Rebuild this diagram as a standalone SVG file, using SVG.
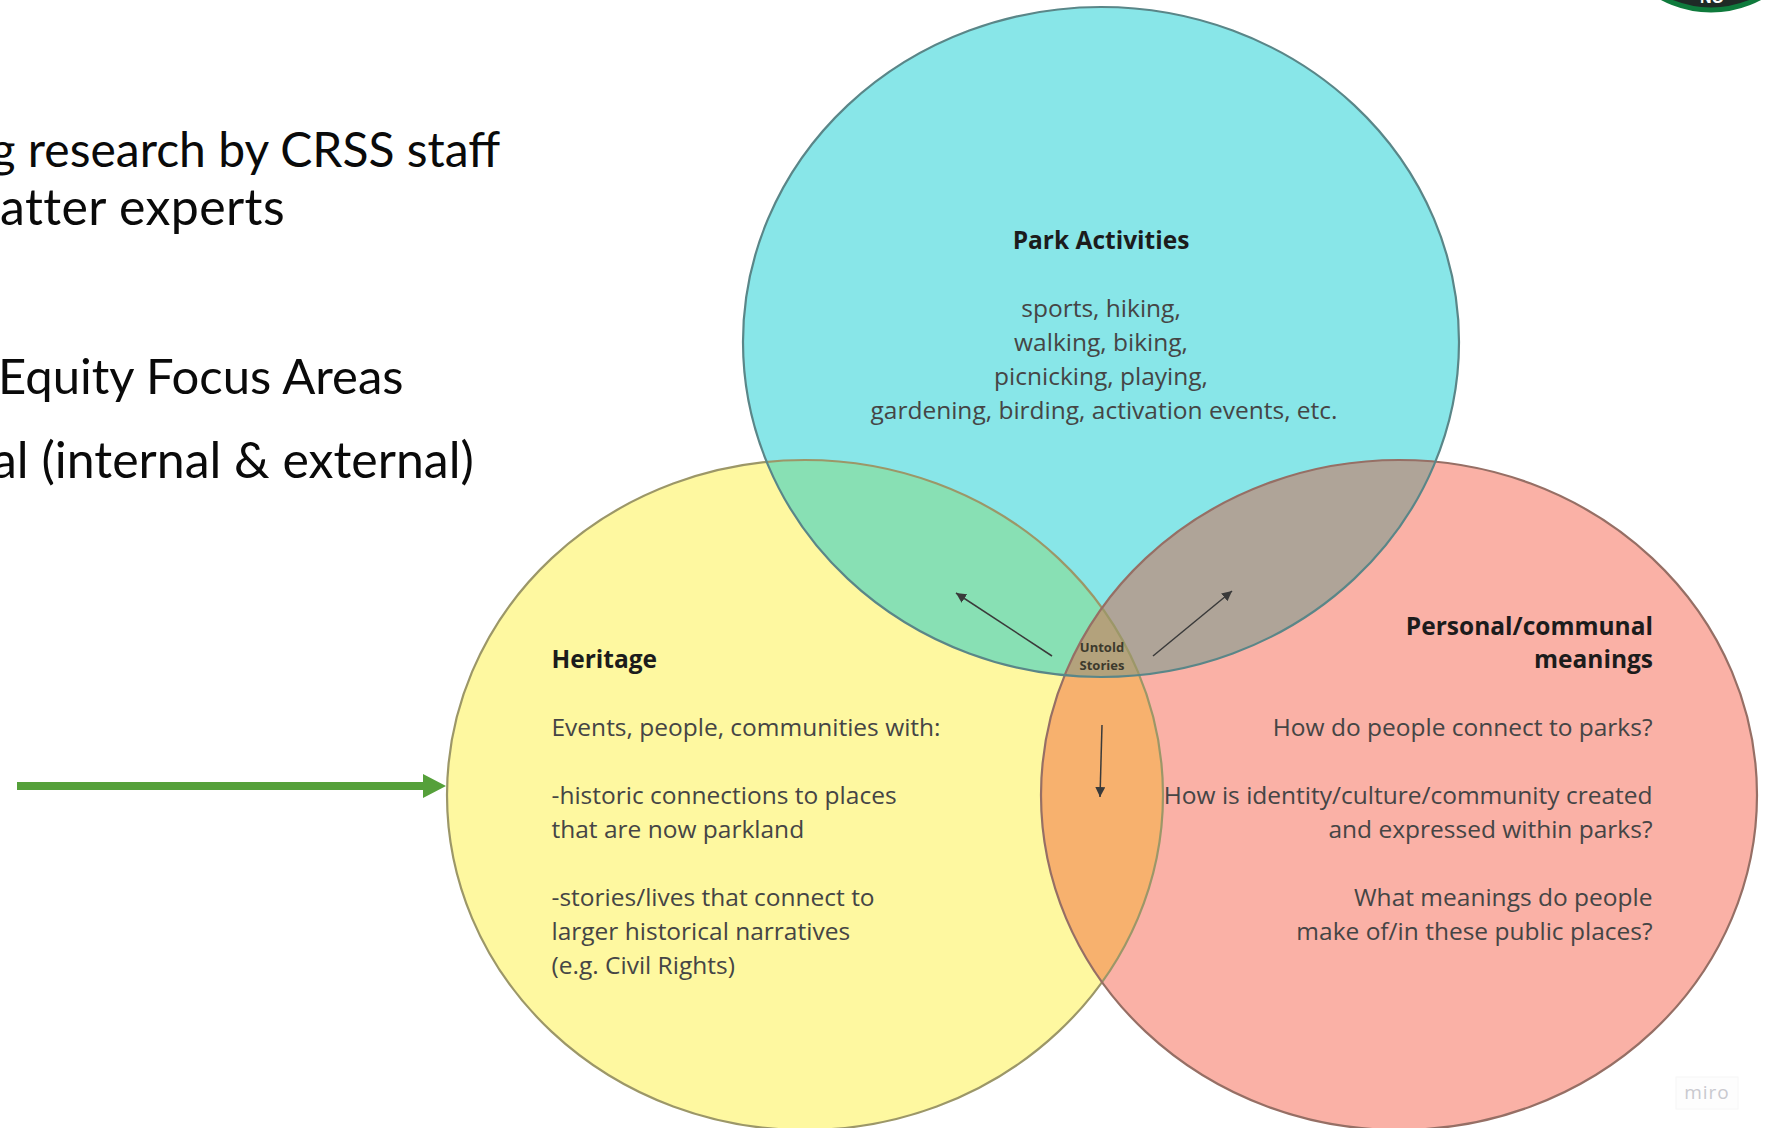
<svg xmlns="http://www.w3.org/2000/svg" width="1767" height="1128" viewBox="0 0 1767 1128">
<style>
.side{font-family:"Lato","Liberation Sans",sans-serif;font-size:50px;fill:#0a0a0a}
.t{font-family:"Open Sans","Noto Sans",sans-serif;font-size:24.5px;fill:#454545}
.b{font-weight:700;fill:#1c1c1c}
.m{text-anchor:middle}
.e{text-anchor:end}
.edge{fill:none;stroke-width:2.2}
.arr{fill:none;stroke:#3a3a3a;stroke-width:1.5;marker-end:url(#ah)}
</style>
<defs>
<marker id="ah" markerUnits="userSpaceOnUse" markerWidth="12" markerHeight="10" refX="10" refY="5" orient="auto"><path d="M0 0L10 5L0 10z" fill="#3a3a3a"/></marker>
<clipPath id="cT"><ellipse cx="1101" cy="342" rx="358" ry="335"/></clipPath>
<clipPath id="cL"><ellipse cx="805" cy="795" rx="358" ry="335"/></clipPath>
<clipPath id="cR"><ellipse cx="1399" cy="795" rx="358" ry="335"/></clipPath>
</defs>
<rect width="1767" height="1128" fill="#fff"/>
<g id="side-text">
<text class="side" x="-9.4" y="167" style="font-size:48px">g research by CRSS staff</text>
<text class="side" x="0" y="225" letter-spacing="0.4">atter experts</text>
<text class="side" x="-2" y="394" style="font-size:49px">Equity Focus Areas</text>
<text class="side" x="-8" y="478">al (internal &amp; external)</text>
</g>
<g id="logo">
<circle cx="1711" cy="-94" r="104" fill="#1f2a26" stroke="#0f7a3c" stroke-width="5"/>
<text x="1712" y="3" text-anchor="middle" font-family="Liberation Sans, sans-serif" font-size="16" font-weight="700" fill="#fff">NO</text>
</g>
<g id="node-park"><ellipse cx="1101" cy="342" rx="358" ry="335" fill="#88E6E8"/></g>
<g id="node-heritage"><ellipse cx="805" cy="795" rx="358" ry="335" fill="#FEF8A0"/></g>
<g id="node-personal"><ellipse cx="1399" cy="795" rx="358" ry="335" fill="#FAB1A6"/></g>
<g id="overlaps">
<g clip-path="url(#cT)"><ellipse cx="805" cy="795" rx="358" ry="335" fill="#88E0B4"/></g>
<g clip-path="url(#cT)"><ellipse cx="1399" cy="795" rx="358" ry="335" fill="#AFA498"/></g>
<g clip-path="url(#cL)"><ellipse cx="1399" cy="795" rx="358" ry="335" fill="#F7B16E"/></g>
<g clip-path="url(#cT)"><g clip-path="url(#cL)"><ellipse cx="1399" cy="795" rx="358" ry="335" fill="#B3A27C"/></g></g>
</g>
<g id="outlines">
<ellipse class="edge" cx="805" cy="795" rx="358" ry="335" stroke="#9c9768"/>
<ellipse class="edge" cx="1399" cy="795" rx="358" ry="335" stroke="#966f65"/>
<ellipse class="edge" cx="1101" cy="342" rx="358" ry="335" stroke="#5a8688"/>
</g>
<g id="connectors">
<path class="arr" d="M1052 656L956 593"/>
<path class="arr" d="M1153 656L1232 591"/>
<path class="arr" d="M1102 725L1100 797"/>
<path d="M17 782H423V774L446 786L423 798V790H17z" fill="#55A03A"/>
</g>
<g id="label-park">
<text class="t b m" x="1101" y="249">Park Activities</text>
<text class="t m" x="1101" y="317">sports, hiking,</text>
<text class="t m" x="1101" y="351">walking, biking,</text>
<text class="t m" x="1101" y="385">picnicking, playing,</text>
<text class="t m" x="1104" y="419">gardening, birding, activation events, etc.</text>
</g>
<g id="label-heritage">
<text class="t b" x="551.5" y="668">Heritage</text>
<text class="t" x="551.5" y="735.5">Events, people, communities with:</text>
<text class="t" x="551.5" y="803.5">-historic connections to places</text>
<text class="t" x="551.5" y="837.5">that are now parkland</text>
<text class="t" x="551.5" y="905.5">-stories/lives that connect to</text>
<text class="t" x="551.5" y="939.5">larger historical narratives</text>
<text class="t" x="551.5" y="973.5">(e.g. Civil Rights)</text>
</g>
<g id="label-personal">
<text class="t b e" x="1653" y="635">Personal/communal</text>
<text class="t b e" x="1653" y="668">meanings</text>
<text class="t e" x="1652.5" y="735.5">How do people connect to parks?</text>
<text class="t e" x="1652.5" y="803.5">How is identity/culture/community created</text>
<text class="t e" x="1652.5" y="837.5">and expressed within parks?</text>
<text class="t e" x="1652.5" y="905.5">What meanings do people</text>
<text class="t e" x="1652.5" y="939.5">make of/in these public places?</text>
</g>
<g id="label-untold">
<text class="t b m" x="1102" y="652" style="font-size:13px;fill:#3d3a2c">Untold</text>
<text class="t b m" x="1102" y="670" style="font-size:13px;fill:#3d3a2c">Stories</text>
</g>
<g id="miro">
<rect x="1676" y="1077" width="62" height="32" fill="#fdfdfd" stroke="#f6f6f6"/>
<text x="1707" y="1099" text-anchor="middle" font-family="Open Sans, sans-serif" font-size="19" fill="#c9c9cf" letter-spacing="1">miro</text>
</g>
</svg>
